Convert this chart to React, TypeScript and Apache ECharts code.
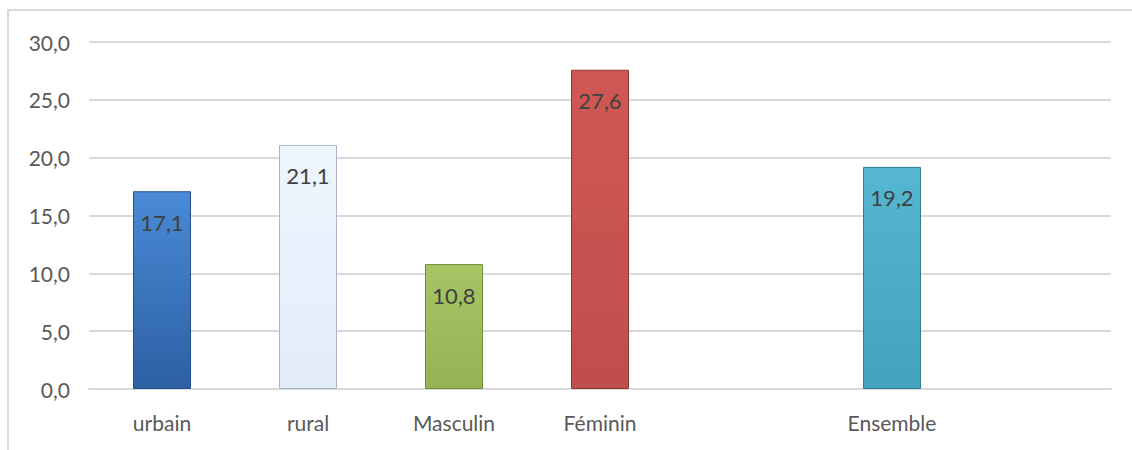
import React, { useEffect, useRef } from "react";
import * as echarts from "echarts";

const categories = ["urbain", "rural", "Masculin", "Féminin", "", "Ensemble", ""];
const values: (number | null)[] = [17.1, 21.1, 10.8, 27.6, null, 19.2, null];
const topColors = ["#4a8ad6", "#eef5fe", "#a6c565", "#d05854", "", "#55b7d2", ""];
const bottomColors = ["#2c60a3", "#e2ecf9", "#94b352", "#bf4f4c", "", "#44a2bc", ""];
const borderColors = ["#27528c", "#aab6c6", "#738d3d", "#8a3836", "", "#2f7a8e", ""];
const yTicks = [0, 5, 10, 15, 20, 25, 30];

const fmt = (v: number) => v.toFixed(1).replace(".", ",");

export default function App() {
  const ref = useRef<HTMLDivElement>(null);
  useEffect(() => {
    if (!ref.current) return;
    const chart = echarts.init(ref.current, null, { renderer: "svg" });
    chart.setOption({
      animation: false,
      backgroundColor: "#ffffff",
      textStyle: { fontFamily: "Lato, 'Noto Sans', sans-serif" },
      graphic: [
        {
          type: "rect",
          shape: { x: 8, y: 10, width: 1300, height: 600 },
          style: { fill: "none", stroke: "#d9d9d9", lineWidth: 2 },
          silent: true,
          z: -1,
        },
      ],
      grid: { left: 89, right: 21, top: 42, bottom: 61 },
      xAxis: {
        type: "category",
        data: categories,
        axisLine: { show: true, lineStyle: { color: "#d9d9d9", width: 2 } },
        axisTick: { show: false },
        axisLabel: { color: "#595959", fontSize: 21, margin: 23 },
      },
      yAxis: {
        type: "value",
        min: yTicks[0],
        max: yTicks[yTicks.length - 1],
        interval: 5,
        axisLine: { show: false },
        axisTick: { show: false },
        splitLine: { lineStyle: { color: "#d9d9d9", width: 2 } },
        axisLabel: { color: "#595959", fontSize: 21, margin: 19, formatter: (v: number) => fmt(v) },
      },
      series: [
        {
          type: "bar",
          barWidth: 58,
          data: values.map((v, i) =>
            v === null
              ? null
              : {
                  value: v,
                  itemStyle: {
                    color: new echarts.graphic.LinearGradient(0, 0, 0, 1, [
                      { offset: 0, color: topColors[i] },
                      { offset: 1, color: bottomColors[i] },
                    ]),
                    borderColor: borderColors[i],
                    borderWidth: 1,
                  },
                }
          ),
          label: {
            show: true,
            position: "insideTop",
            distance: 20,
            color: "#404040",
            fontSize: 22,
            formatter: (p: any) => fmt(p.value),
          },
        },
      ],
    });
    return () => chart.dispose();
  }, []);
  return (
    <div
      ref={ref}
      style={{ position: "fixed", left: 0, top: 0, width: 1132, height: 450 }}
    />
  );
}
